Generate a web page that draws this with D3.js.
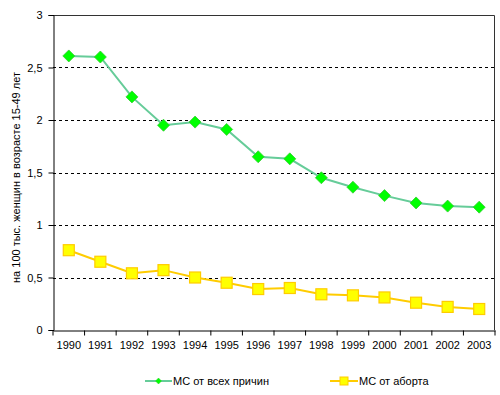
<!DOCTYPE html>
<html>
<head>
<meta charset="utf-8">
<script src="https://cdn.jsdelivr.net/npm/d3@7"></script>
<style>
body { margin:0; background:#fff; }
text { font-family: Arial, "Liberation Sans", sans-serif; fill:#000; }
</style>
</head>
<body>
<div id="canvas" class="canvas" style="width:500px;height:395px;"></div>
<script>
var years = ['1990','1991','1992','1993','1994','1995','1996','1997','1998','1999','2000','2001','2002','2003'];
var allCauses = [2.61,2.60,2.22,1.95,1.98,1.91,1.65,1.63,1.45,1.36,1.28,1.21,1.18,1.17];
var abortion = [0.76,0.65,0.54,0.57,0.50,0.45,0.39,0.40,0.34,0.33,0.31,0.26,0.22,0.20];
var yTicks = [0,0.5,1,1.5,2,2.5,3];
var seriesNames = ['МС от всех причин','МС от аборта'];
var yTitle = 'на 100 тыс. женщин в возрасте 15-49 лет';

var m = {t:15,r:5,b:65,l:53},
    w = 500 - m.l - m.r,
    h = 395 - m.t - m.b;

var svg = d3.select('.canvas').append('svg')
    .attr('width',500).attr('height',395);

var plot = svg.append('g')
    .attr('transform','translate('+m.l+','+m.t+')');

var x = d3.scaleBand().domain(years).range([0,w]);
var y = d3.scaleLinear().domain([0,3]).range([h,0]);
var fmt = function(d){ return String(d).replace('.',','); };

// dashed gridlines
plot.selectAll('.grid')
    .data(yTicks.filter(function(d){ return d>0 && d<3; }))
    .enter().append('line')
    .attr('x1',0).attr('x2',w)
    .attr('y1',function(d){ return Math.round(y(d))+0.5; })
    .attr('y2',function(d){ return Math.round(y(d))+0.5; })
    .attr('stroke','#000').attr('stroke-dasharray','3,3');

// plot border (top/right)
plot.append('path')
    .attr('d','M0,0.5H'+(w-0.5)+'V'+h)
    .attr('fill','none').attr('stroke','#333');

// axes
var yAxis = plot.append('g')
    .attr('transform','translate(0.5,0)')
    .call(d3.axisLeft(y).tickValues(yTicks).tickFormat(fmt).tickSize(5).tickPadding(5));
var xAxis = plot.append('g')
    .attr('transform','translate(0,'+(h+0.5)+')')
    .call(d3.axisBottom(x).tickSize(0).tickPadding(11));
xAxis.selectAll('.tick')
    .append('line')
    .attr('x1',-x.bandwidth()/2).attr('x2',-x.bandwidth()/2)
    .attr('y1',0).attr('y2',5).attr('stroke','#000');
xAxis.append('line')
    .attr('x1',w).attr('x2',w).attr('y1',0).attr('y2',5).attr('stroke','#000');
[yAxis,xAxis].forEach(function(a){
    a.select('.domain').attr('stroke','#000');
    a.selectAll('text').attr('font-size',11).attr('fill','#000');
    a.selectAll('.tick line').attr('stroke','#000');
});
yAxis.selectAll('text').attr('dx',-1);

// y title
svg.append('text')
    .attr('transform','translate(20,'+(m.t+h/2+5)+') rotate(-90)')
    .attr('text-anchor','middle')
    .attr('font-size',11)
    .text(yTitle);

var cx = function(d,i){ return x(years[i]) + x.bandwidth()/2; };
var line = d3.line().x(cx).y(function(d){ return y(d); });

// green series
plot.append('path').datum(allCauses)
    .attr('d',line).attr('fill','none')
    .attr('stroke','#66CC99').attr('stroke-width',2);
plot.selectAll('.dia').data(allCauses).enter().append('path')
    .attr('d','M0,-6L6,0L0,6L-6,0Z')
    .attr('transform',function(d,i){ return 'translate('+cx(d,i)+','+y(d)+')'; })
    .attr('fill','#00FF00').attr('stroke','#33CC33').attr('stroke-width',0.8);

// yellow series
plot.append('path').datum(abortion)
    .attr('d',line).attr('fill','none')
    .attr('stroke','#FFCC00').attr('stroke-width',2);
plot.selectAll('.sq').data(abortion).enter().append('rect')
    .attr('x',function(d,i){ return cx(d,i)-5.5; })
    .attr('y',function(d){ return y(d)-5.5; })
    .attr('width',11).attr('height',11)
    .attr('fill','#FFFF00').attr('stroke','#FFCC00').attr('stroke-width',1.2);

// legend
var leg = svg.append('g').attr('transform','translate(0,381)');
var lg1 = leg.append('g').attr('transform','translate(145,0)');
lg1.append('line').attr('x1',0).attr('x2',27).attr('stroke','#66CC99').attr('stroke-width',2);
lg1.append('path').attr('d','M0,-3L3,0L0,3L-3,0Z').attr('transform','translate(13.5,0)')
    .attr('fill','#00FF00').attr('stroke','#33CC33').attr('stroke-width',0.5);
lg1.append('text').attr('x',28).attr('y',4).attr('font-size',11).text(seriesNames[0]);
var lg2 = leg.append('g').attr('transform','translate(330,0)');
lg2.append('line').attr('x1',0).attr('x2',28).attr('stroke','#FFCC00').attr('stroke-width',2);
lg2.append('rect').attr('x',10).attr('y',-4).attr('width',8).attr('height',8)
    .attr('fill','#FFFF00').attr('stroke','#FFCC00');
lg2.append('text').attr('x',29).attr('y',4).attr('font-size',11).text(seriesNames[1]);
</script>
</body>
</html>
